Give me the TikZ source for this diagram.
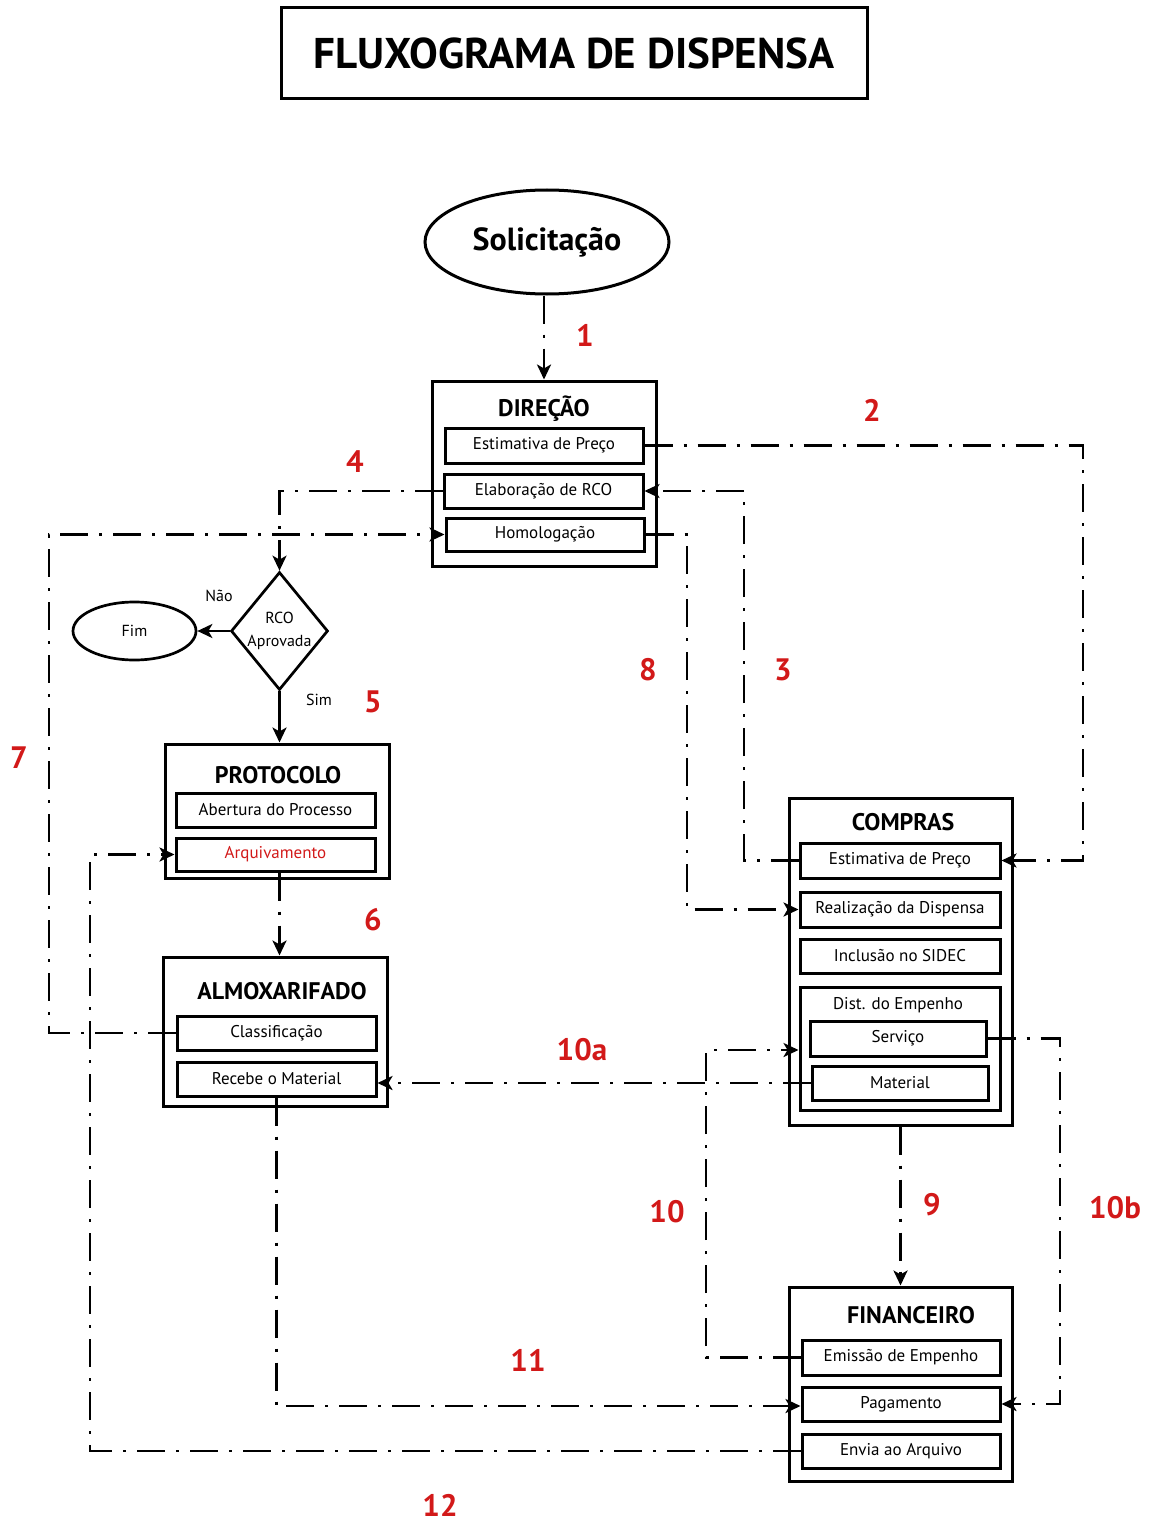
\documentclass[tikz,border=0pt]{standalone}
\usepackage{fontspec}
\setmainfont{PT Sans}
\usetikzlibrary{shapes.geometric,arrows.meta}
\definecolor{lblred}{RGB}{210,25,25}
\begin{document}
\begin{tikzpicture}[x=1pt,y=-1pt,
  outerbox/.style={draw,line width=3pt,inner sep=0pt},
  subbox/.style={draw,line width=3pt,inner sep=0pt,font=\fontsize{17}{19}\selectfont},
  boxtitle/.style={font=\bfseries\fontsize{24}{26}\selectfont,inner sep=0pt},
  small/.style={font=\fontsize{16}{18}\selectfont,inner sep=0pt,align=center},
  num/.style={font=\bfseries\fontsize{31}{33}\selectfont,text=lblred,inner sep=0pt},
  tip/.style={-{Stealth[length=15pt,width=14pt,inset=4pt]}},
  flow/.style={line width=2.7pt,dash pattern=on 28pt off 11pt on 3pt off 11pt,tip},
  solidflow/.style={line width=2.7pt,tip}]
\useasboundingbox (0,0) rectangle (1149,1522);

% title
\node[draw,line width=3pt,minimum width=586pt,minimum height=91pt,inner sep=0pt,
  font=\bfseries\fontsize{43}{46}\selectfont] (title) at (574,53.5) {FLUXOGRAMA DE DISPENSA};

% Solicitacao
\node[ellipse,draw,line width=3pt,minimum width=244pt,minimum height=104pt,inner sep=0pt,
  font=\bfseries\fontsize{32}{34}\selectfont] (sol) at (547,242) {Solicitação};

% DIRECAO
\node[outerbox,minimum width=224pt,minimum height=185pt] (dir) at (544,473.5) {};
\node[boxtitle] (dirt) at (544,409) {DIREÇÃO};
\node[subbox,minimum width=198pt,minimum height=35pt] (dir1) at (544,445.5) {Estimativa de Preço};
\node[subbox,minimum width=199pt,minimum height=34pt] (dir2) at (543.5,491) {Elaboração de RCO};
\node[subbox,minimum width=198pt,minimum height=33pt] (dir3) at (545,534.5) {Homologação};

% decision
\node[diamond,draw,line width=2.7pt,minimum width=97pt,minimum height=118pt,inner sep=0pt,aspect=0.82,
  small,align=center] (dia) at (279.5,631) {RCO\\[5pt]Aprovada};
\node[ellipse,draw,line width=2.7pt,minimum width=123pt,minimum height=58pt,inner sep=0pt,small] (fim) at (134.5,631) {Fim};
\node[small] (nao) at (219,596) {Não};
\node[small] (sim) at (319,700) {Sim};

% PROTOCOLO
\node[outerbox,minimum width=224pt,minimum height=134pt] (pro) at (277,811) {};
\node[boxtitle] (prot) at (278,775) {PROTOCOLO};
\node[subbox,minimum width=199pt,minimum height=34pt] (pro1) at (275.5,810) {Abertura do Processo};
\node[subbox,minimum width=199pt,minimum height=33pt,text=lblred] (pro2) at (275.5,854.5) {Arquivamento};

% ALMOXARIFADO
\node[outerbox,minimum width=224pt,minimum height=149pt] (alm) at (275,1031.5) {};
\node[boxtitle] (almt) at (282,991) {ALMOXARIFADO};
\node[subbox,minimum width=199pt,minimum height=34pt] (alm1) at (276.5,1033) {Classificação};
\node[subbox,minimum width=199pt,minimum height=34pt] (alm2) at (276.5,1079) {Recebe o Material};

% COMPRAS
\node[outerbox,minimum width=223pt,minimum height=327pt] (cmp) at (900.5,961.5) {};
\node[boxtitle] (cmpt) at (903,822) {COMPRAS};
\node[subbox,minimum width=200pt,minimum height=35pt] (cmp1) at (900,860.5) {Estimativa de Preço};
\node[subbox,minimum width=200pt,minimum height=35pt] (cmp2) at (900,909.5) {Realização da Dispensa};
\node[subbox,minimum width=200pt,minimum height=34pt] (cmp3) at (900,956) {Inclusão no SIDEC};
\node[subbox,minimum width=200pt,minimum height=123pt] (dist) at (900,1048.5) {};
\node[small,font=\fontsize{17}{19}\selectfont] (distt) at (898,1005) {Dist. do Empenho};
\node[subbox,minimum width=176pt,minimum height=35pt] (serv) at (898,1038.5) {Serviço};
\node[subbox,minimum width=176pt,minimum height=34pt] (mat) at (900,1083) {Material};

% FINANCEIRO
\node[outerbox,minimum width=223pt,minimum height=194pt] (fin) at (900.5,1384) {};
\node[boxtitle] (fint) at (911,1315) {FINANCEIRO};
\node[subbox,minimum width=198pt,minimum height=35pt] (fin1) at (901,1357.5) {Emissão de Empenho};
\node[subbox,minimum width=198pt,minimum height=34pt] (fin2) at (901,1404) {Pagamento};
\node[subbox,minimum width=198pt,minimum height=34pt] (fin3) at (901,1451) {Envia ao Arquivo};

% helper coordinates for routing
\coordinate (x2) at (1083,0);
\coordinate (x3) at (744,0);
\coordinate (x7) at (49,0);
\coordinate (x8) at (687,0);
\coordinate (x10) at (706,0);
\coordinate (x10b) at (1060,0);
\coordinate (x12) at (90,0);
\coordinate (y11) at (0,1406);
\coordinate (y10) at (0,1050);

% connectors
\draw[flow] (sol.south -| dir.north) -- (dir.north);
\draw[flow] (dir1.east) -- (dir1.east -| x2) |- (cmp1.east);
\draw[flow] (cmp1.west) -- (cmp1.west -| x3) |- (dir2.east);
\draw[flow] (dir2.west) -| (dia.north);
\draw[solidflow] (dia.west) -- (fim.east);
\draw[solidflow] (dia.south) -- (dia.south |- pro.north);
\draw[flow] (pro2.south -| dia.south) -- (dia.south |- alm.north);
\draw[flow] (alm1.west) -- (alm1.west -| x7) |- (dir3.west);
\draw[flow] (dir3.east) -- (dir3.east -| x8) |- (cmp2.west);
\draw[flow] (cmp.south) -- (fin.north);
\draw[flow] (fin1.west) -- (fin1.west -| x10) |- (dist.west |- y10);
\draw[flow] (mat.west) -- (mat.west -| alm2.east);
\draw[flow] (serv.east) -- (serv.east -| x10b) |- (fin2.east);
\draw[flow] (alm2.south) -- (alm2.south |- y11) -- (fin2.west |- y11);
\draw[flow] (fin3.west) -- (fin3.west -| x12) |- (pro2.west);

% step numbers
\node[num] (n1) at (585,335) {1};
\node[num] (n2) at (872,410) {2};
\node[num] (n3) at (783,670) {3};
\node[num] (n4) at (355,462) {4};
\node[num] (n5) at (373,702) {5};
\node[num] (n6) at (373,920) {6};
\node[num] (n7) at (19,758) {7};
\node[num] (n8) at (648,670) {8};
\node[num] (n9) at (932,1205) {9};
\node[num] (n10) at (667,1212) {10};
\node[num] (n10a) at (582,1050) {10a};
\node[num] (n10b) at (1115,1208) {10b};
\node[num] (n11) at (528,1360) {11};
\node[num] (n12) at (440,1505) {12};
\end{tikzpicture}
\end{document}
